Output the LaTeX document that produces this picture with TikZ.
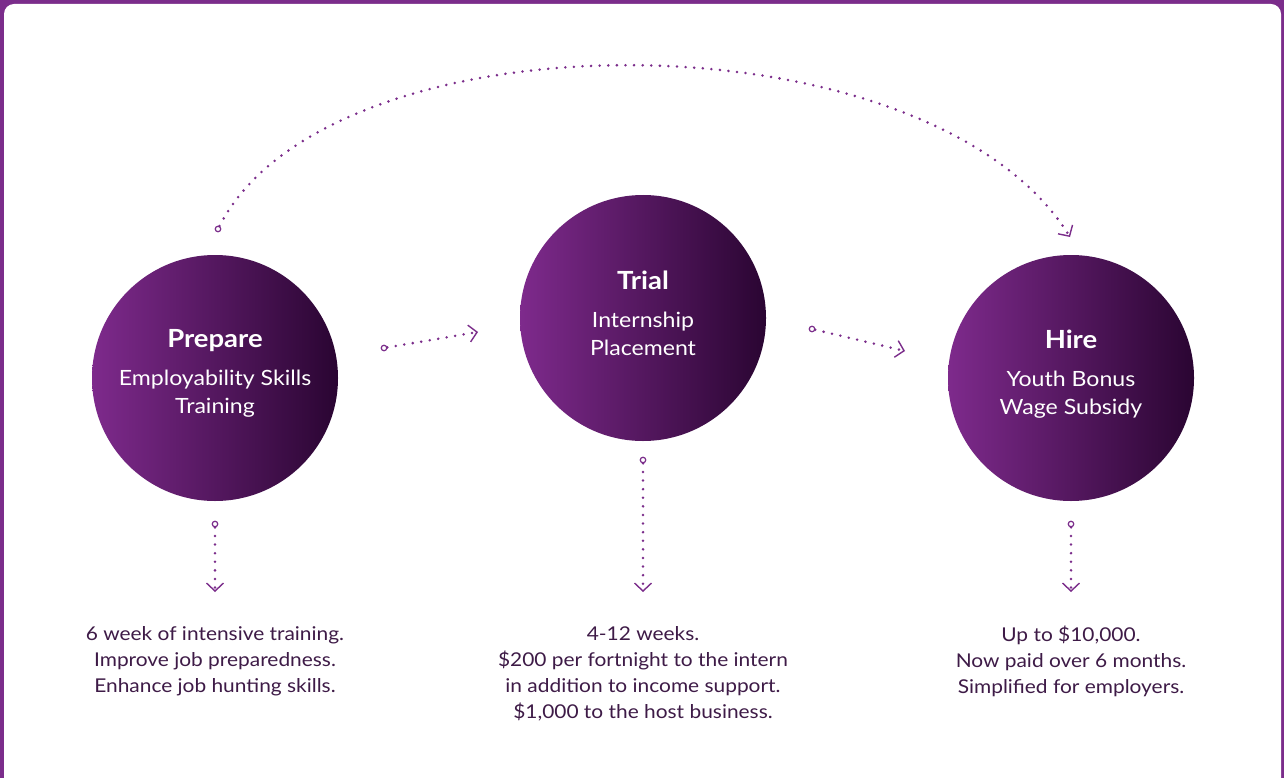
\documentclass[tikz,border=0pt]{standalone}
\usepackage{fontspec}
\setmainfont{Lato}[FakeStretch=1.1]
\usetikzlibrary{arrows.meta}
\definecolor{brand}{HTML}{7B2D8B}
\definecolor{circL}{HTML}{7E2A8C}
\definecolor{circR}{HTML}{2A0532}
\definecolor{bodytext}{HTML}{3E1B47}
\begin{document}
\begin{tikzpicture}[x=1pt,y=-1pt,
  stage/.style={circle, minimum size=246pt, inner sep=0pt,
    left color=circL, right color=circR},
  stagetext/.style={text=white, align=center,
    font=\fontsize{21}{28}\selectfont},
  startdot/.style={circle, draw=brand, fill=white, line width=1.2pt,
    minimum size=5.5pt, inner sep=0pt},
  dotline/.style={draw=brand, line width=2.8pt, line cap=round,
    dash pattern=on 0pt off 8.6pt,
    -{Straight Barb[length=8pt, width=17pt, line width=1.4pt]}},
  note/.style={text=bodytext, align=center, font=\fontsize{19}{26}\selectfont}
]
% frame
\clip (0,0) rectangle (1284,778);
\fill[brand] (0,0) rectangle (1284,778);
\fill[white, rounded corners=10pt] (4,4) rectangle (1281,790);

% stages
\node[stage] (prep) at (215,378) {};
\node[stage] (trial) at (643,318) {};
\node[stage] (hire) at (1071,378) {};
\node[stagetext] (prepT) at (215,373.5)
  {{\fontsize{25}{28}\selectfont\bfseries Prepare}\\[10pt]Employability Skills\\Training};
\node[stagetext] (trialT) at (643,313.5)
  {{\fontsize{25}{28}\selectfont\bfseries Trial}\\[10pt]Internship\\Placement};
\node[stagetext] (hireT) at (1071,374)
  {{\fontsize{25}{28}\selectfont\bfseries Hire}\\[10pt]Youth Bonus\\Wage Subsidy};

% connector ends
\node[startdot] (arcS) at (218,229) {};
\coordinate (arcE) at (1070,237);
\node[startdot] (ptS) at (384,348) {};
\coordinate (ptE) at (478,332);
\node[startdot] (thS) at (812,329) {};
\coordinate (thE) at (905,351);
\node[startdot] (pdS) at (215,524) {};
\coordinate (pdE) at (215,592);
\node[startdot] (tdS) at (643,460) {};
\coordinate (tdE) at (643,592);
\node[startdot] (hdS) at (1071,524) {};
\coordinate (hdE) at (1071,592);

% connectors
\draw[dotline] (arcS) .. controls (330,10) and (930,10) .. (arcE);
\draw[dotline] (ptS) -- (ptE);
\draw[dotline] (thS) -- (thE);
\draw[dotline] (pdS) -- (pdE);
\draw[dotline] (tdS) -- (tdE);
\draw[dotline] (hdS) -- (hdE);

% notes
\node[note] (prepN) at (215,661)
  {6 week of intensive training.\\Improve job preparedness.\\Enhance job hunting skills.};
\node[note] (trialN) at (643,674)
  {4-12 weeks.\\\$200 per fortnight to the intern\\in addition to income support.\\\$1,000 to the host business.};
\node[note] (hireN) at (1071,661)
  {Up to \$10,000.\\Now paid over 6 months.\\Simplified for employers.};
\end{tikzpicture}
\end{document}
